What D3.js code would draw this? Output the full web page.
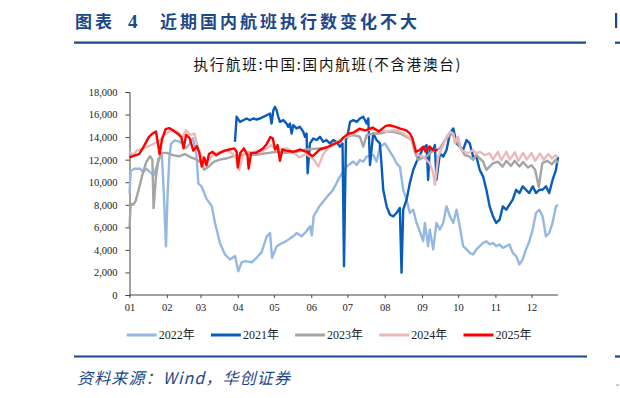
<!DOCTYPE html>
<html>
<head>
<meta charset="utf-8">
<script src="https://cdn.jsdelivr.net/npm/d3@7"></script>
<style>
body{margin:0;background:#fff;}
svg{display:block;font-family:"Liberation Serif","Noto Sans CJK SC",serif;}
</style>
</head>
<body>
<div id="chart"></div>
<script>
// day of year -> executed flights
const s2022 = [[0,9000],[1,11000],[4,11200],[9,11200],[11.5,10900],[14,11200],[17,10900],[20,10600],[22.6,11400],[25.4,12300],[26.8,12600],[28.5,9000],[30.3,4300],[31.5,8500],[33,12000],[34.5,13400],[37.3,13700],[41.5,13600],[44.3,13400],[47,13000],[49.9,13400],[52.7,13900],[55.5,12600],[57.2,9900],[60,9600],[64.1,8500],[68.3,7900],[71,6400],[75.2,4600],[79.3,3600],[83.5,3150],[87.7,3450],[90.4,2100],[93.2,2900],[96,3000],[101.5,2900],[105.6,3300],[109.8,3800],[114,5200],[116.7,5500],[118.5,3300],[122.2,4300],[125,4500],[130.5,4800],[136,5200],[139,5500],[143,5200],[147,5650],[150,6100],[151.5,5300],[153,7000],[158,7900],[164,8700],[169,9300],[174.8,10500],[180.4,11390],[186,11830],[188.8,11530],[191.4,11970],[194.2,11830],[197,12260],[202.5,12410],[205.3,11830],[208,13150],[212.2,13440],[216.4,12710],[219.1,12260],[221.8,11680],[224.6,11390],[227.4,9330],[230.2,8450],[232.9,7270],[235.7,7560],[238.5,6390],[242.6,5210],[244,4770],[245.4,6390],[248.1,4330],[249.5,5800],[252.3,4040],[255,6390],[257.9,5800],[260.6,6390],[263.4,7860],[266.2,6970],[269,6390],[271.7,7560],[274.4,6090],[277.2,4330],[280,4040],[282.7,3740],[285.5,3590],[288.2,4040],[291,4330],[293.8,4620],[296.5,4770],[299.2,4480],[302,4620],[304.7,4330],[307.5,4480],[310.2,4180],[313,4330],[315.7,4480],[318.4,3740],[321.2,3450],[324,2710],[326.7,3150],[329.4,4040],[332.2,4770],[335,5800],[337.7,7270],[340.5,7560],[343.2,6970],[346,5210],[348.7,5500],[351.5,6390],[354.3,7860],[356,8010]];

const s2021 = [[87.6,13590],[89,15800],[91.8,15350],[94.5,15500],[97.3,15650],[100,15500],[102.9,15650],[105.6,15560],[108.4,15650],[111.2,15800],[113.9,15940],[116.7,16090],[118,15200],[119.5,16380],[120.8,16680],[122.2,16380],[123.6,15800],[125,15350],[127.8,15500],[130.5,15200],[131.9,14910],[133.3,15200],[134.7,14320],[136,15060],[138.8,14770],[141.6,14910],[144.4,14470],[145.8,14030],[147.1,14320],[148,10800],[149.9,13440],[152.7,13880],[155.4,13740],[158.2,14030],[161,13590],[163.7,13740],[166.5,13440],[169.3,13740],[172,13590],[174.8,13150],[177,13440],[178.2,2560],[179.8,13740],[181.7,14470],[183.2,15350],[186,15500],[188.8,15350],[191.4,15650],[194.2,15800],[197,15200],[198.4,15650],[199.8,11530],[202.5,14320],[205.3,13740],[208,13440],[209.4,11530],[210.8,9330],[213.6,7860],[216.4,7120],[219.1,6970],[221.8,7270],[224.6,7710],[226,1980],[227.4,7560],[230.2,8450],[232.9,9920],[235.7,11090],[238.5,11820],[241.2,12410],[244,13000],[246.8,13300],[248.1,10200],[249.5,13150],[252.3,12850],[253.7,13300],[255,10200],[257.9,12560],[260.6,12270],[263.4,12860],[266.2,14320],[269,14770],[271.7,13440],[274.4,13150],[277.2,12860],[280,13740],[282.7,13440],[285.5,12270],[288.2,12270],[291,11090],[293.8,10500],[296.5,9330],[299.2,7860],[302,6970],[304.7,6390],[307.5,6680],[310.2,7860],[313,7560],[315.7,8010],[318.4,8450],[321.2,9330],[324,9040],[326.7,9630],[329.4,9330],[332.2,9040],[335,9630],[337.7,9040],[340.5,9330],[343.2,9330],[346,9630],[348.7,9040],[351.5,10200],[354.3,11090],[356,12260]];

const s2023 = [[0,6000],[1,8100],[3,8000],[5,8300],[8,9500],[11,10800],[14,11800],[17,12300],[19,12000],[20,7700],[22,10500],[24,12000],[27,12600],[31,12600],[36,12400],[41,12300],[46,12500],[51,12200],[56,12000],[60,11700],[62,11100],[66,11400],[70,11800],[75,12000],[80,12100],[86,12300],[92,12400],[97,12500],[103,12400],[109,12500],[116,12600],[122,12700],[130,12600],[139,12700],[147,12900],[158,13000],[166,13100],[174.8,13740],[180.4,14030],[186,14170],[191.4,14030],[194.2,13150],[197,14170],[202.5,14320],[208,14320],[213.6,14470],[219,14470],[224.8,14320],[230,14030],[234.3,13740],[237,12710],[239.8,11970],[242.5,12120],[246.7,12270],[249.5,12560],[253.7,12860],[257.9,13000],[262,13740],[264.8,14030],[267.6,14320],[270.3,13880],[274.4,13150],[278.6,12410],[282.7,12270],[285.5,11970],[288.2,12410],[291,12120],[293.8,11820],[296.5,11090],[299.2,11380],[302,11680],[306,11820],[310,11380],[313,11900],[317,11450],[320,11900],[324,11400],[327,11800],[331,11300],[334,11500],[337,11100],[340,9600],[343,11700],[347,11900],[351,11600],[354,12000],[356,11700]];

const s2024 = [[0,12700],[3,12400],[6,12800],[10,12900],[14,13100],[18,13300],[22,13500],[25,13700],[29,14200],[33,14500],[37,14600],[41,14400],[44,14000],[47,14600],[50,14200],[54,14300],[57,13000],[60,12300],[63,11600],[66,12000],[69,12400],[73,12600],[77,12700],[81,12800],[85,12600],[88,12200],[91,11100],[94,12300],[98,12700],[102,12600],[106,12800],[110,12700],[114,13000],[118,13300],[121,12900],[125,12850],[130.5,13000],[136,12700],[141,12200],[147,12500],[153,12000],[157,11400],[161,12500],[166,13100],[172,13500],[174.8,13740],[180.4,14030],[186,14320],[191.4,14620],[197,14620],[202.5,14680],[208,14620],[213.6,14470],[219,14620],[224.8,14470],[230,14170],[234.3,13740],[237,13000],[239.8,12410],[244,12260],[246.7,11970],[249.5,11680],[252.3,10800],[253.7,9770],[256.5,12260],[260.6,13300],[263.4,14030],[266.2,14470],[269,14320],[270.3,13440],[273,14030],[275.8,12850],[278.6,12700],[281.3,12560],[285.5,12850],[288,12560],[291,12700],[295,12410],[299.2,12560],[302,12000],[306,12700],[309,11950],[313,12700],[316,12000],[320,12650],[323,11900],[327,12600],[330,12000],[334,12600],[337,11900],[341,12550],[344,12000],[348,12500],[351,12100],[354,12400],[356,12200]];

const s2025 = [[0,12200],[4,12350],[8,12500],[12,13200],[16,14000],[19,14300],[22,14500],[25,12500],[27,13800],[30,14700],[33,14800],[36,14600],[40,14300],[43,14000],[45,13000],[47,14200],[50,13900],[53,12800],[56,13200],[58,12600],[60,11400],[62,12200],[64,11500],[66,12500],[69,12700],[72,12400],[75,12600],[79,12800],[83,12900],[87,13000],[89,12700],[90,11300],[92,12600],[95,13000],[98,12400],[99,11200],[101,12600],[105,12600],[108,12800],[111,13000],[114,13400],[117,14000],[119,13900],[121,12900],[123,13300],[125,11900],[127,12900],[130,12800],[136,12700],[142,12900],[147,12700],[152,12300],[158,12900],[164,13100],[170,13400],[175,13600],[178,14000],[182,14300],[186,14400],[191,14750],[196,14600],[202,14850],[207,14500],[213,15000],[216,15050],[221,14900],[225,14750],[230,14600],[233,14300],[235,13900],[238,12700],[241,12850],[244,13150],[246,12700],[249,13150],[252,12850],[256,12850]];

const monthDays = [0,31,59,90,120,151,181,212,243,273,304,334];
const monthLabels = ["01","02","03","04","05","06","07","08","09","10","11","12"];
const yTicks = [0,2000,4000,6000,8000,10000,12000,14000,16000,18000];

const seriesNames = ["2022年","2021年","2023年","2024年","2025年"];
const seriesData = [s2022, s2021, s2023, s2024, s2025];
const seriesColors = ["#95b8e3","#0a5cba","#a5a5a5","#ebb9b9","#ff0000"];

const W = 620, H = 398;
const blue = "#1b4889";

const svg = d3.select("#chart").append("svg")
  .attr("width", W).attr("height", H)
  .attr("viewBox", [0, 0, W, H]);

// header
svg.append("text").attr("x", 75).attr("y", 28).text("图表")
  .attr("font-family", "Noto Sans CJK SC").attr("font-weight", "bold")
  .attr("font-size", 17).attr("letter-spacing", 3).attr("fill", blue);
svg.append("text").attr("x", 128).attr("y", 28).text("4")
  .attr("font-family", "Liberation Serif").attr("font-weight", "bold")
  .attr("font-size", 19).attr("fill", blue);
svg.append("text").attr("x", 160).attr("y", 28).text("近期国内航班执行数变化不大")
  .attr("font-family", "Noto Sans CJK SC").attr("font-weight", "bold")
  .attr("font-size", 17).attr("letter-spacing", 3).attr("fill", blue);
svg.append("line").attr("x1", 74).attr("x2", 586).attr("y1", 42.7).attr("y2", 42.7)
  .attr("stroke", blue).attr("stroke-width", 2.2);
svg.append("line").attr("x1", 615).attr("x2", 620).attr("y1", 42.7).attr("y2", 42.7)
  .attr("stroke", blue).attr("stroke-width", 2.2);
svg.append("rect").attr("x", 615).attr("y", 13).attr("width", 2.2).attr("height", 15).attr("fill", blue);

// subtitle
svg.append("text").attr("x", 327).attr("y", 70).attr("text-anchor", "middle")
  .attr("font-family", "Noto Sans CJK SC").attr("font-size", 14.5)
  .attr("textLength", 267).attr("lengthAdjust", "spacing")
  .attr("fill", "#111").text("执行航班:中国:国内航班(不含港澳台)");

// scales
const x = d3.scaleLinear().domain([0, 356]).range([129.5, 558]);
const y = d3.scaleLinear().domain([0, 18000]).range([295, 92]);

// axes
const yAxis = svg.append("g").attr("transform", "translate(129.5,0)")
  .call(d3.axisLeft(y).tickValues(yTicks).tickSize(4).tickPadding(8)
    .tickFormat(d3.format(",")));
yAxis.select(".domain").attr("stroke", "#444");
yAxis.selectAll(".tick line").attr("stroke", "#444");
yAxis.selectAll("text").attr("font-family", "Liberation Serif").attr("font-size", 10.5).attr("fill", "#222");

const xAxis = svg.append("g").attr("transform", "translate(0,295)")
  .call(d3.axisBottom(x).tickValues(monthDays).tickSize(3).tickPadding(6)
    .tickFormat((d, i) => monthLabels[i]));
xAxis.select(".domain").attr("stroke", "#444").attr("d", "M129.5,0H558");
xAxis.selectAll(".tick line").attr("stroke", "#444");
xAxis.selectAll("text").attr("font-family", "Liberation Serif").attr("font-size", 10.5).attr("fill", "#222");

// lines
const line = d3.line().x(d => x(d[0])).y(d => y(d[1]));
svg.append("g").selectAll("path")
  .data(seriesData)
  .enter()
  .append("path")
  .attr("d", line)
  .attr("fill", "none")
  .attr("stroke", (d, i) => seriesColors[i])
  .attr("stroke-width", 2.4)
  .attr("stroke-linejoin", "round");

// legend
const lg = svg.append("g").selectAll("g")
  .data(seriesNames)
  .enter()
  .append("g")
  .attr("transform", (d, i) => `translate(${126.7 + i * 84.2},335)`);
lg.append("line").attr("x1", 0).attr("x2", 30).attr("y1", 0).attr("y2", 0)
  .attr("stroke", (d, i) => seriesColors[i]).attr("stroke-width", 3);
lg.append("text").attr("x", 32).attr("y", 4.2).text(d => d)
  .attr("font-size", 12).attr("fill", "#222");

// footer
svg.append("line").attr("x1", 74).attr("x2", 587).attr("y1", 356.5).attr("y2", 356.5)
  .attr("stroke", blue).attr("stroke-width", 2.2);
svg.append("line").attr("x1", 615).attr("x2", 620).attr("y1", 356.5).attr("y2", 356.5)
  .attr("stroke", blue).attr("stroke-width", 2.2);
svg.append("line").attr("x1", 616).attr("x2", 619).attr("y1", 385).attr("y2", 385)
  .attr("stroke", "#8899bb").attr("stroke-width", 1);
svg.append("text").attr("x", 77).attr("y", 384)
  .attr("font-family", "Noto Sans CJK SC").attr("font-style", "italic")
  .attr("font-size", 16).attr("fill", blue)
  .attr("textLength", 213).attr("lengthAdjust", "spacing")
  .text("资料来源：Wind，华创证券");
</script>
</body>
</html>
